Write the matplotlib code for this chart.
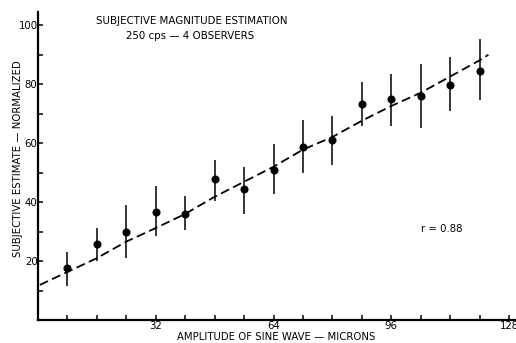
import matplotlib
matplotlib.use("Agg")
import matplotlib.pyplot as plt
from matplotlib.ticker import MultipleLocator, FixedLocator

plt.rcParams['font.family'] = ['DejaVu Sans']

# Vibration amplitude (microns) and mean normalized estimates
amplitude = [8, 16, 24, 32, 40, 48, 56, 64, 72, 80, 88, 96, 104, 112, 120]
estimate = [17.5, 25.7, 29.9, 36.7, 35.8, 47.7, 44.6, 50.8, 58.7, 61.0,
            73.4, 74.9, 75.9, 79.9, 84.5]
range_low = [11.6, 20.0, 21.2, 28.4, 30.5, 40.4, 35.9, 42.7, 49.9, 52.5,
             65.9, 65.8, 65.0, 70.8, 74.8]
range_high = [23.2, 31.1, 39.0, 45.4, 42.0, 54.2, 52.0, 59.7, 67.8, 69.2,
              80.8, 83.3, 86.8, 89.3, 95.3]

# Fitted trend (dashed)
fit_x = [0.5, 16, 24, 32, 40, 48, 56, 64, 72, 80, 88, 96, 104, 112, 120, 122.4]
fit_y = [11.9, 21.0, 26.6, 31.2, 36.0, 41.8, 46.9, 52.0, 57.8, 62.1,
         67.6, 72.6, 77.1, 82.6, 88.1, 90.0]

x_ticks = [32, 64, 96, 128]
y_ticks = [20, 40, 60, 80, 100]

fig = plt.figure(figsize=(5.16, 3.43), dpi=100)
ax = fig.add_axes([38 / 516, 23 / 343, 478 / 516, 308 / 343])

ax.plot(fit_x, fit_y, linestyle=(0, (5, 2.5)), color='black', lw=1.3, zorder=2)

yerr = [[e - lo for e, lo in zip(estimate, range_low)],
        [hi - e for e, hi in zip(estimate, range_high)]]
ax.errorbar(amplitude, estimate, yerr=yerr, fmt='o', color='black',
            ms=4.8, elinewidth=1.1, capsize=0, zorder=3)

ax.set_xlim(0, 129.9)
ax.set_ylim(0, 104.5)

for side in ('top', 'right'):
    ax.spines[side].set_visible(False)
for side in ('left', 'bottom'):
    ax.spines[side].set_linewidth(1.6)

ax.xaxis.set_major_locator(FixedLocator(x_ticks))
ax.xaxis.set_minor_locator(MultipleLocator(8))
ax.yaxis.set_major_locator(FixedLocator(y_ticks))
ax.yaxis.set_minor_locator(MultipleLocator(10))
ax.tick_params(which='both', direction='in', length=3.5, width=1.1,
               labelsize=7.3)
ax.tick_params(axis='x', pad=1)
ax.tick_params(axis='y', pad=0.3)
ax.set_xticklabels([str(v) for v in x_ticks])
ax.set_yticklabels([str(v) for v in y_ticks])

ax.set_xlabel('AMPLITUDE OF SINE WAVE — MICRONS', fontsize=7.3, va='center')
ax.xaxis.set_label_coords(238 / 478, -17.5 / 308)
ax.set_ylabel('SUBJECTIVE ESTIMATE — NORMALIZED', fontsize=7.3, va='center')
ax.yaxis.set_label_coords(-20 / 478, 0.524)

fig.text(192 / 516, 1 - 21 / 343, 'SUBJECTIVE MAGNITUDE ESTIMATION',
         ha='center', va='center', fontsize=7.4)
fig.text(190 / 516, 1 - 36 / 343, '250 cps — 4 OBSERVERS',
         ha='center', va='center', fontsize=7.4)
ax.text(104, 31, 'r = 0.88', fontsize=7.3, ha='left', va='center')

fig.savefig('out.png', dpi=100)
